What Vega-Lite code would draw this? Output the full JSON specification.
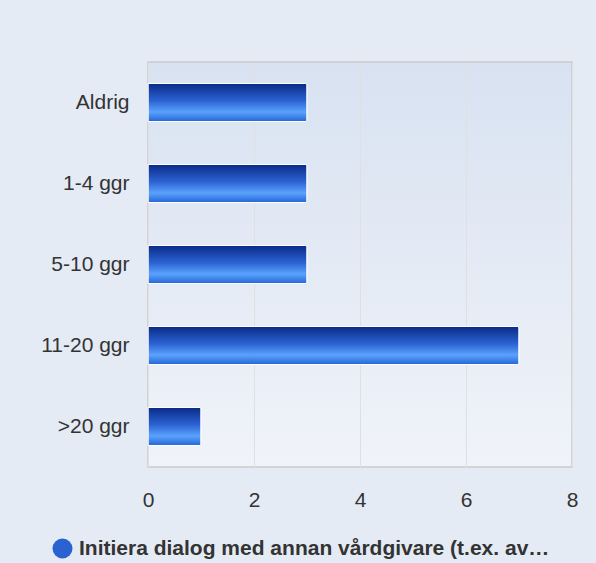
{
  "$schema": "https://vega.github.io/schema/vega-lite/v6.json",
  "width": 424,
  "height": 405,
  "autosize": {"type": "none"},
  "padding": {"left": 148, "top": 62, "right": 24, "bottom": 96},
  "background": "#e4ebf5",
  "config": {
    "font": "Liberation Sans",
    "view": {
      "stroke": "#cccccc",
      "strokeWidth": 1.5,
      "fill": {
        "gradient": "linear",
        "x1": 0, "y1": 0, "x2": 0, "y2": 1,
        "stops": [
          {"offset": 0, "color": "#d8e2f1"},
          {"offset": 1, "color": "#f0f3f9"}
        ]
      }
    }
  },
  "data": {
    "values": [
      {"kategori": "Aldrig", "antal": 3, "serie": "Initiera dialog med annan vårdgivare (t.ex. av…"},
      {"kategori": "1-4 ggr", "antal": 3, "serie": "Initiera dialog med annan vårdgivare (t.ex. av…"},
      {"kategori": "5-10 ggr", "antal": 3, "serie": "Initiera dialog med annan vårdgivare (t.ex. av…"},
      {"kategori": "11-20 ggr", "antal": 7, "serie": "Initiera dialog med annan vårdgivare (t.ex. av…"},
      {"kategori": ">20 ggr", "antal": 1, "serie": "Initiera dialog med annan vårdgivare (t.ex. av…"}
    ]
  },
  "mark": {
    "type": "bar",
    "stroke": "white",
    "strokeWidth": 1,
    "cornerRadiusEnd": 2,
    "fill": {
      "gradient": "linear",
      "x1": 0, "y1": 0, "x2": 0, "y2": 1,
      "stops": [
        {"offset": 0, "color": "#0a2a86"},
        {"offset": 0.45, "color": "#2b62d2"},
        {"offset": 0.75, "color": "#5aa2fd"},
        {"offset": 1, "color": "#2466d6"}
      ]
    }
  },
  "encoding": {
    "y": {
      "field": "kategori",
      "type": "nominal",
      "sort": ["Aldrig", "1-4 ggr", "5-10 ggr", "11-20 ggr", ">20 ggr"],
      "scale": {"paddingInner": 0.53, "paddingOuter": 0.265},
      "axis": {
        "title": null,
        "ticks": false,
        "domain": false,
        "labelFontSize": 21,
        "labelColor": "#333333",
        "labelPadding": 19,
        "labelLimit": 200
      }
    },
    "x": {
      "field": "antal",
      "type": "quantitative",
      "scale": {"domain": [0, 8], "nice": false},
      "axis": {
        "title": null,
        "values": [0, 2, 4, 6, 8],
        "ticks": false,
        "domain": false,
        "grid": true,
        "gridColor": "#e0e0e0",
        "gridWidth": 1,
        "labelFontSize": 21,
        "labelColor": "#333333",
        "labelPadding": 22,
        "labelFlush": false
      }
    },
    "color": {
      "field": "serie",
      "type": "nominal",
      "scale": {"range": ["#2b62d2"]},
      "legend": {
        "title": null,
        "orient": "none",
        "legendX": -96,
        "legendY": 476,
        "symbolType": "circle",
        "symbolSize": 400,
        "symbolStrokeWidth": 0,
        "labelFontSize": 21,
        "labelFontWeight": "bold",
        "labelColor": "#333333",
        "labelLimit": 600,
        "labelOffset": 6,
        "encode": {
          "symbols": {
            "update": {
              "fill": {"value": {
                "gradient": "linear",
                "x1": 0, "y1": 0, "x2": 1, "y2": 0,
                "stops": [
                  {"offset": 0, "color": "#1a4fc0"},
                  {"offset": 0.4, "color": "#5aa2fd"},
                  {"offset": 1, "color": "#0a2a86"}
                ]
              }},
              "opacity": {"value": 1}
            }
          }
        }
      }
    }
  }
}
